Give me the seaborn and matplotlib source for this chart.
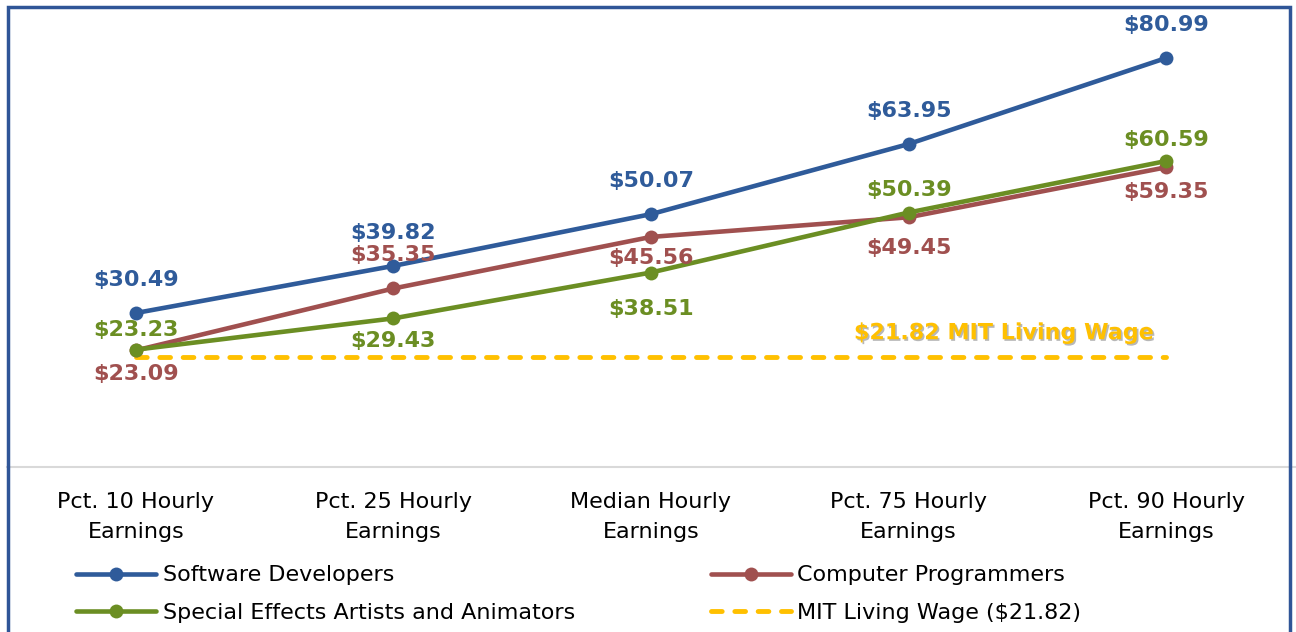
import numpy as np
import pandas as pd
import matplotlib
matplotlib.use('Agg')
import matplotlib.pyplot as plt
import matplotlib.patheffects as pe
from matplotlib.lines import Line2D
from matplotlib.patches import Rectangle
import seaborn as sns

categories = ['Pct. 10 Hourly\nEarnings', 'Pct. 25 Hourly\nEarnings', 'Median Hourly\nEarnings',
              'Pct. 75 Hourly\nEarnings', 'Pct. 90 Hourly\nEarnings']
software_dev = [30.49, 39.82, 50.07, 63.95, 80.99]
comp_prog = [23.09, 35.35, 45.56, 49.45, 59.35]
sfx_anim = [23.23, 29.43, 38.51, 50.39, 60.59]
living_wage = [21.82, 21.82, 21.82, 21.82, 21.82]

series_names = ['Software Developers', 'Computer Programmers', 'Special Effects Artists and Animators']
colors = {'Software Developers': '#2F5B9A', 'Computer Programmers': '#A0504F',
          'Special Effects Artists and Animators': '#6B8E23'}
wage_color = '#FFC000'

# label offsets in points (dx, dy) per series
offsets = {
    'Software Developers': [(0, 24), (0, 24), (0, 24), (0, 24), (0, 24)],
    'Computer Programmers': [(0, -17), (0, 24), (0, -15), (0, -22), (0, -18)],
    'Special Effects Artists and Animators': [(0, 14), (0, -16), (0, -26), (0, 16), (0, 15)],
}

df = pd.DataFrame({
    'category': categories * 3,
    'wage': software_dev + comp_prog + sfx_anim,
    'series': [s for s in series_names for _ in categories],
})
df_wage = pd.DataFrame({'category': categories, 'wage': living_wage})

sns.set_style('white')
plt.rcParams['font.family'] = ['DejaVu Sans']

fig = plt.figure(figsize=(12.96, 6.32), dpi=100)
ax = fig.add_axes([7 / 1296, 165 / 632, 1288 / 1296, 454.5 / 632])

sns.lineplot(data=df_wage, x='category', y='wage', color=wage_color, linewidth=3.5,
             linestyle=(0, (2.2, 2.6)), ax=ax, sort=False)
ax.lines[-1].set_dash_capstyle('round')

sns.lineplot(data=df, x='category', y='wage', hue='series', hue_order=series_names,
             palette=colors, linewidth=3.3, marker='o', markersize=10, markeredgewidth=0,
             ax=ax, legend=False, sort=False)

for name, vals in zip(series_names, [software_dev, comp_prog, sfx_anim]):
    for i, v in enumerate(vals):
        dx, dy = offsets[name][i]
        ax.annotate(f'${v:.2f}', xy=(i, v), xytext=(dx, dy), textcoords='offset points',
                    ha='center', va='center', fontsize=16, fontweight='bold', color=colors[name])

ax.annotate('$21.82 MIT Living Wage', xy=(4, living_wage[-1]), xytext=(-9, 17),
            textcoords='offset points', ha='right', va='center', fontsize=16,
            fontweight='bold', color=wage_color,
            path_effects=[pe.withSimplePatchShadow(offset=(1.2, -1.2), shadow_rgbFace='#888888', alpha=0.6)])

ax.set_xlim(-0.5, 4.5)
ax.set_ylim(0, 90)
ax.set_xlabel('')
ax.set_ylabel('')
ax.set_yticks([])
for s in ['left', 'right', 'top']:
    ax.spines[s].set_visible(False)
ax.spines['bottom'].set_color('#D9D9D9')
ax.spines['bottom'].set_linewidth(1.5)
ax.tick_params(axis='x', length=0, pad=18, labelsize=16, labelcolor='black')
for lbl in ax.get_xticklabels():
    lbl.set_linespacing(1.6)
ax.set_facecolor('none')

handles = [
    Line2D([], [], color=colors['Software Developers'], lw=3.3, marker='o', markersize=10, markeredgewidth=0),
    Line2D([], [], color=colors['Special Effects Artists and Animators'], lw=3.3, marker='o', markersize=10, markeredgewidth=0),
    Line2D([], [], color=colors['Computer Programmers'], lw=3.3, marker='o', markersize=10, markeredgewidth=0),
    Line2D([], [], color=wage_color, lw=3.5, linestyle=(0, (2.2, 2.6)), dash_capstyle='round'),
]
labels = ['Software Developers', 'Special Effects Artists and Animators',
          'Computer Programmers', 'MIT Living Wage ($21.82)']
fig.legend(handles, labels, ncol=2, loc='center left', bbox_to_anchor=(65 / 1296, 0.060),
           frameon=False, fontsize=16, labelcolor='black', handlelength=3.6, handletextpad=0.3,
           columnspacing=6.1, labelspacing=0.78, borderpad=0)

fig.patches.append(Rectangle((8 / 1296, -0.05), 1282 / 1296, 1.05 - 7 / 632, transform=fig.transFigure,
                             fill=False, edgecolor='#2F5597', linewidth=2.5, zorder=10))

fig.savefig('out.png', dpi=100)
